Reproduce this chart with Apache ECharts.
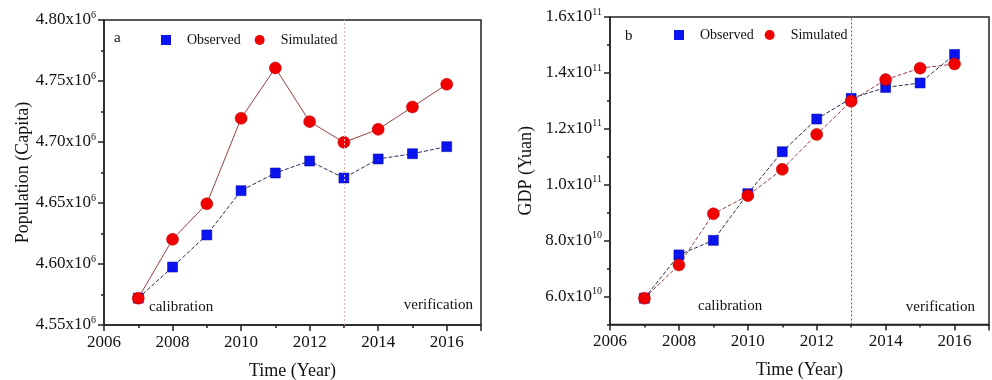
<!DOCTYPE html>
<html>
<head>
<meta charset="utf-8">
<script src="https://cdn.jsdelivr.net/npm/echarts@6/dist/echarts.min.js"></script>
<style>html,body{margin:0;padding:0;background:#fff}#c{width:992px;height:380px}</style>
</head>
<body>
<div id="c"></div>
<script>
var years = [2007, 2008, 2009, 2010, 2011, 2012, 2013, 2014, 2015, 2016];
var popObserved = [4572000, 4597500, 4623800, 4660100, 4674600, 4684400, 4670500, 4686100, 4690400, 4696200];
var popSimulated = [4572000, 4620200, 4649400, 4719400, 4760700, 4716700, 4699700, 4710400, 4728700, 4747300];
var gdpObserved = [5.94e10, 7.49e10, 8.01e10, 9.68e10, 1.118e11, 1.235e11, 1.309e11, 1.348e11, 1.364e11, 1.466e11];
var gdpSimulated = [5.94e10, 7.13e10, 8.96e10, 9.61e10, 1.055e11, 1.180e11, 1.299e11, 1.376e11, 1.417e11, 1.432e11];
var yearTicks = [2006, 2008, 2010, 2012, 2014, 2016];
var gdpMajorTicks = [6e10, 8e10, 1e11, 1.2e11, 1.4e11, 1.6e11];
var gdpMinorTicks = [5e10, 7e10, 9e10, 1.1e11, 1.3e11, 1.5e11];
var splitYear = 2013;

function pairs(xs, ys) { return xs.map(function (x, i) { return [x, ys[i]]; }); }

var F = 'Liberation Serif, Times New Roman, serif';
var rich = {
  b: { fontFamily: F, fontSize: 17, color: '#111' },
  s: { fontFamily: F, fontSize: 10, color: '#111', verticalAlign: 'bottom', padding: [0, 0, 10, 0] }
};
function popFmt(v) { return '{b|' + (v / 1e6).toFixed(2) + 'x10}{s|6}'; }
function gdpFmt(v) {
  if (v >= 1e11 - 1) return '{b|' + (v / 1e11).toFixed(1) + 'x10}{s|11}';
  return '{b|' + (v / 1e10).toFixed(1) + 'x10}{s|10}';
}

var axisLineStyle = { color: '#222', width: 1.5 };
function xAxis(gi) {
  return {
    gridIndex: gi, type: 'value', min: 2006, max: 2017, interval: 2,
    name: 'Time (Year)', nameLocation: 'middle', nameGap: 37,
    nameTextStyle: { fontFamily: F, fontSize: 18, color: '#111' },
    axisLine: { lineStyle: axisLineStyle },
    axisTick: { length: 6, lineStyle: axisLineStyle },
    minorTick: { show: true, splitNumber: 2, length: 3, lineStyle: { color: '#222', width: 1.5 } },
    axisLabel: {
      fontFamily: F, fontSize: 17, color: '#111', margin: 9,
      customValues: yearTicks, formatter: function (v) { return String(v); }
    },
    splitLine: { show: false }
  };
}
function legend(left, top, gap) {
  return {
    left: left, top: top, itemWidth: 10, itemHeight: 10, itemGap: gap,
    itemStyle: { borderWidth: 0 },
    textStyle: { fontFamily: F, fontSize: 14, color: '#111', padding: [0, 0, 0, 11] },
    data: [{ name: 'Observed', icon: 'rect' }, { name: 'Simulated', icon: 'circle' }]
  };
}

var option = {
  animation: false,
  backgroundColor: '#fff',
  grid: [
    { left: 104, top: 20, width: 377, height: 305, show: true, borderColor: '#222', borderWidth: 1.5, containLabel: false, outerBoundsMode: 'none' },
    { left: 610, top: 17, width: 379, height: 307.5, show: true, borderColor: '#222', borderWidth: 1.5, containLabel: false, outerBoundsMode: 'none' }
  ],
  xAxis: [xAxis(0), xAxis(1)],
  yAxis: [
    {
      gridIndex: 0, type: 'value', min: 4550000, max: 4800000, interval: 50000,
      name: 'Population (Capita)', nameLocation: 'middle', nameGap: 72,
      nameTextStyle: { fontFamily: F, fontSize: 18, color: '#111' },
      axisLine: { lineStyle: axisLineStyle },
      axisTick: { length: 6, lineStyle: axisLineStyle },
      minorTick: { show: true, splitNumber: 2, length: 3, lineStyle: { color: '#222', width: 1.5 } },
      axisLabel: { formatter: popFmt, rich: rich, margin: 8 },
      splitLine: { show: false }
    },
    {
      gridIndex: 1, type: 'value', min: 5e10, max: 1.6e11, interval: 1e10,
      name: 'GDP (Yuan)', nameLocation: 'middle', nameGap: 75,
      nameTextStyle: { fontFamily: F, fontSize: 18, color: '#111' },
      axisLine: { lineStyle: axisLineStyle },
      axisTick: { length: 6, customValues: gdpMajorTicks, lineStyle: axisLineStyle },
      axisLabel: { formatter: gdpFmt, rich: rich, margin: 8, customValues: gdpMajorTicks },
      splitLine: { show: false }
    },
    {
      gridIndex: 1, type: 'value', min: 5e10, max: 1.6e11, interval: 1e10, position: 'left',
      axisLine: { show: false },
      axisTick: { length: 3, customValues: gdpMinorTicks, lineStyle: axisLineStyle },
      axisLabel: { show: false },
      splitLine: { show: false }
    }
  ],
  legend: [legend(156, 28, 14), legend(669, 23, 11)],
  graphic: [
    { type: 'text', left: 114, top: 31, style: { text: 'a', font: '15px ' + F, fill: '#111' } },
    { type: 'text', left: 625, top: 29, style: { text: 'b', font: '15px ' + F, fill: '#111' } },
    { type: 'text', left: 149, top: 300, style: { text: 'calibration', font: '15px ' + F, fill: '#111' } },
    { type: 'text', right: 992 - 473, top: 298, style: { text: 'verification', font: '15px ' + F, fill: '#111' } },
    { type: 'text', left: 698, top: 299, style: { text: 'calibration', font: '15px ' + F, fill: '#111' } },
    { type: 'text', right: 992 - 975, top: 300, style: { text: 'verification', font: '15px ' + F, fill: '#111' } }
  ],
  series: [
    {
      name: 'Observed', type: 'line', xAxisIndex: 0, yAxisIndex: 0, data: pairs(years, popObserved),
      symbol: 'rect', symbolSize: 10,
      itemStyle: { color: '#0a14f0', borderColor: '#0000a0', borderWidth: 0.5 },
      lineStyle: { color: '#2b2b5c', width: 1, type: [4, 2] },
      markLine: {
        silent: true, symbol: 'none', label: { show: false },
        lineStyle: { color: '#d8b8b8', width: 1, type: [2, 2] },
        data: [{ xAxis: splitYear }]
      }
    },
    {
      name: 'Simulated', type: 'line', xAxisIndex: 0, yAxisIndex: 0, data: pairs(years, popSimulated),
      symbol: 'circle', symbolSize: 12,
      itemStyle: { color: '#f00000', borderColor: '#b00000', borderWidth: 0.5 },
      lineStyle: { color: '#9a4040', width: 1 }
    },
    {
      name: 'Observed', type: 'line', xAxisIndex: 1, yAxisIndex: 1, data: pairs(years, gdpObserved),
      symbol: 'rect', symbolSize: 10,
      itemStyle: { color: '#0a14f0', borderColor: '#0000a0', borderWidth: 0.5 },
      lineStyle: { color: '#2b2b5c', width: 1, type: [4, 2] },
      markLine: {
        silent: true, symbol: 'none', label: { show: false },
        lineStyle: { color: '#a04040', width: 1, type: [2, 2] },
        data: [{ xAxis: splitYear }]
      }
    },
    {
      name: 'Simulated', type: 'line', xAxisIndex: 1, yAxisIndex: 1, data: pairs(years, gdpSimulated),
      symbol: 'circle', symbolSize: 12,
      itemStyle: { color: '#f00000', borderColor: '#b00000', borderWidth: 0.5 },
      lineStyle: { color: '#9a4040', width: 1, type: [4, 2] }
    }
  ]
};
var chart = echarts.init(document.getElementById('c'), null, { renderer: 'canvas' });
chart.setOption(option);
</script>
</body>
</html>
